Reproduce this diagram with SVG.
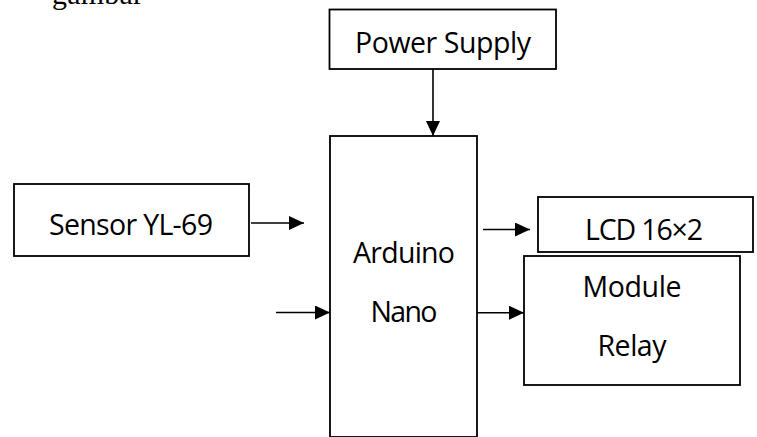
<svg xmlns="http://www.w3.org/2000/svg" width="757" height="437" viewBox="0 0 757 437">
<style>
.box{fill:#fff;stroke:#000;stroke-width:1.8}
.lbl{font-family:"Open Sans","Liberation Sans",sans-serif;font-size:28.5px;fill:#000;text-anchor:middle}
.cap{font-family:"Liberation Serif","Times New Roman",serif;font-size:30px;fill:#000}
.con{stroke:#000;stroke-width:1.6;fill:none;marker-end:url(#ah)}
</style>
<defs>
<marker id="ah" markerUnits="userSpaceOnUse" markerWidth="16" markerHeight="15" refX="15" refY="7" orient="auto">
<path d="M0,0 L15,7 L0,14 z" fill="#000"/>
</marker>
</defs>
<rect width="757" height="437" fill="#fff"/>
<text class="cap" x="52" y="3.5" textLength="91">gambar</text>
<g id="power-supply">
<rect class="box" x="329.5" y="9.5" width="226.5" height="59.5"/>
<text class="lbl" x="443" y="53" textLength="176">Power Supply</text>
</g>
<g id="sensor">
<rect class="box" x="14" y="184" width="235" height="72"/>
<text class="lbl" x="131" y="235" textLength="164">Sensor YL-69</text>
</g>
<g id="arduino-nano">
<rect class="box" x="330" y="136" width="147" height="301"/>
<text class="lbl" x="404" y="263" textLength="102">Arduino</text>
<text class="lbl" x="404" y="322" textLength="67">Nano</text>
</g>
<g id="lcd">
<rect class="box" x="538" y="197" width="215" height="55"/>
<text class="lbl" x="644" y="240" textLength="118">LCD 16×2</text>
</g>
<g id="module-relay">
<rect class="box" x="524" y="256" width="216" height="129"/>
<text class="lbl" x="632" y="297" textLength="99">Module</text>
<text class="lbl" x="632" y="356" textLength="69">Relay</text>
</g>
<g id="connectors">
<line class="con" x1="433" y1="69" x2="433" y2="136"/>
<line class="con" x1="251" y1="223" x2="304" y2="223"/>
<line class="con" x1="276" y1="312.5" x2="330" y2="312.5"/>
<line class="con" x1="483" y1="229.5" x2="530" y2="229.5"/>
<line class="con" x1="477" y1="312.7" x2="524" y2="312.7"/>
</g>
</svg>
